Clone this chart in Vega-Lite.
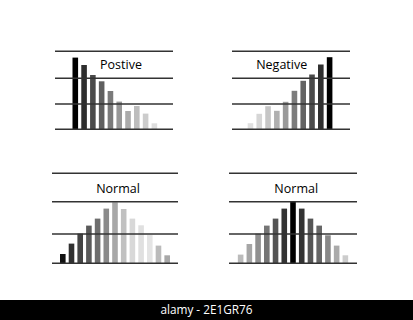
{
  "$schema": "https://vega.github.io/schema/vega-lite/v6.json",
  "padding": 0,
  "autosize": {"type": "pad"},
  "background": "white",
  "spacing": 0,
  "config": {"view": {"stroke": null}},
  "resolve": {"scale": {"x": "independent", "y": "independent", "color": "independent"}},
  "datasets": {
    "bars": [
      {"panel": "pos", "i": 0, "v": 71.7}, {"panel": "pos", "i": 1, "v": 64.3}, {"panel": "pos", "i": 2, "v": 54.3}, {"panel": "pos", "i": 3, "v": 48}, {"panel": "pos", "i": 4, "v": 38.3},
      {"panel": "pos", "i": 5, "v": 27.7}, {"panel": "pos", "i": 6, "v": 18.3}, {"panel": "pos", "i": 7, "v": 23.3}, {"panel": "pos", "i": 8, "v": 15.7}, {"panel": "pos", "i": 9, "v": 6},
      {"panel": "neg", "i": 0, "v": 6.1}, {"panel": "neg", "i": 1, "v": 15.5}, {"panel": "neg", "i": 2, "v": 23.1}, {"panel": "neg", "i": 3, "v": 18.5}, {"panel": "neg", "i": 4, "v": 27.5},
      {"panel": "neg", "i": 5, "v": 38.5}, {"panel": "neg", "i": 6, "v": 48.5}, {"panel": "neg", "i": 7, "v": 54.8}, {"panel": "neg", "i": 8, "v": 64.8}, {"panel": "neg", "i": 9, "v": 72.1},
      {"panel": "norm1", "i": 0, "v": 9.3}, {"panel": "norm1", "i": 1, "v": 19.7}, {"panel": "norm1", "i": 2, "v": 29.7}, {"panel": "norm1", "i": 3, "v": 37.7}, {"panel": "norm1", "i": 4, "v": 44.7},
      {"panel": "norm1", "i": 5, "v": 54.7}, {"panel": "norm1", "i": 6, "v": 61}, {"panel": "norm1", "i": 7, "v": 54.3}, {"panel": "norm1", "i": 8, "v": 44.7}, {"panel": "norm1", "i": 9, "v": 38},
      {"panel": "norm1", "i": 10, "v": 28.3}, {"panel": "norm1", "i": 11, "v": 17.7}, {"panel": "norm1", "i": 12, "v": 8},
      {"panel": "norm2", "i": 0, "v": 8.7}, {"panel": "norm2", "i": 1, "v": 19.3}, {"panel": "norm2", "i": 2, "v": 29.7}, {"panel": "norm2", "i": 3, "v": 37.7}, {"panel": "norm2", "i": 4, "v": 44.7},
      {"panel": "norm2", "i": 5, "v": 54.7}, {"panel": "norm2", "i": 6, "v": 62}, {"panel": "norm2", "i": 7, "v": 54.7}, {"panel": "norm2", "i": 8, "v": 44.7}, {"panel": "norm2", "i": 9, "v": 37.7},
      {"panel": "norm2", "i": 10, "v": 28}, {"panel": "norm2", "i": 11, "v": 17.7}, {"panel": "norm2", "i": 12, "v": 8}
    ],
    "levelsTop": [{"g": 0}, {"g": 25.3}, {"g": 51}, {"g": 78}],
    "levelsBottom": [{"g": 0}, {"g": 29.3}, {"g": 61.6}, {"g": 90}]
  },
  "vconcat": [
    {"width": 1, "height": 49, "data": {"values": []}, "mark": "rect", "encoding": {}},
    {
      "spacing": 0,
      "resolve": {"scale": {"x": "independent", "y": "independent", "color": "independent"}},
      "hconcat": [
        {"width": 55, "height": 82, "data": {"values": []}, "mark": "rect", "encoding": {}},
        {
          "width": 118, "height": 82,
          "layer": [
            {
              "data": {"name": "bars"},
              "transform": [{"filter": "datum.panel == 'pos'"}],
              "mark": {"type": "bar", "width": 5.6, "orient": "vertical"},
              "encoding": {
                "x": {"field": "i", "type": "quantitative", "scale": {"domain": [-1.74, 10.55], "nice": false, "zero": false}, "axis": null},
                "y": {"field": "v", "type": "quantitative", "stack": null, "scale": {"domain": [-1.7, 80.3], "nice": false, "zero": false}, "axis": null},
                "color": {"field": "i", "type": "ordinal", "legend": null,
                          "scale": {"range": ["#000000", "#2e2e2e", "#4a4a4a", "#5f5f5f", "#7a7a7a", "#979797", "#ababab", "#bdbdbd", "#cccccc", "#dedede"]}}
              }
            },
            {
              "data": {"name": "levelsTop"},
              "mark": {"type": "rule", "color": "#333333", "strokeWidth": 1.5, "clip": true},
              "encoding": {"y": {"field": "g", "type": "quantitative"}}
            },
            {
              "data": {"values": [{"t": "Postive"}]},
              "mark": {"type": "text", "font": "Open Sans", "fontSize": 12.5, "baseline": "alphabetic", "align": "center", "color": "#000000"},
              "encoding": {"x": {"datum": 5.2}, "y": {"datum": 60.3}, "text": {"field": "t"}}
            }
          ]
        },
        {"width": 59, "height": 82, "data": {"values": []}, "mark": "rect", "encoding": {}},
        {
          "width": 118, "height": 82,
          "layer": [
            {
              "data": {"name": "bars"},
              "transform": [{"filter": "datum.panel == 'neg'"}],
              "mark": {"type": "bar", "width": 5.6, "orient": "vertical"},
              "encoding": {
                "x": {"field": "i", "type": "quantitative", "scale": {"domain": [-1.53, 10.75], "nice": false, "zero": false}, "axis": null},
                "y": {"field": "v", "type": "quantitative", "stack": null, "scale": {"domain": [-1.7, 80.3], "nice": false, "zero": false}, "axis": null},
                "color": {"field": "i", "type": "ordinal", "legend": null,
                          "scale": {"range": ["#e0e0e0", "#d6d6d6", "#c6c6c6", "#b0b0b0", "#9a9a9a", "#7c7c7c", "#646464", "#4a4a4a", "#303030", "#000000"]}}
              }
            },
            {
              "data": {"name": "levelsTop"},
              "mark": {"type": "rule", "color": "#333333", "strokeWidth": 1.5, "clip": true},
              "encoding": {"y": {"field": "g", "type": "quantitative"}}
            },
            {
              "data": {"values": [{"t": "Negative"}]},
              "mark": {"type": "text", "font": "Open Sans", "fontSize": 12.5, "baseline": "alphabetic", "align": "center", "color": "#000000"},
              "encoding": {"x": {"datum": 3.55}, "y": {"datum": 60}, "text": {"field": "t"}}
            }
          ]
        }
      ]
    },
    {"width": 1, "height": 40, "data": {"values": []}, "mark": "rect", "encoding": {}},
    {
      "spacing": 0,
      "resolve": {"scale": {"x": "independent", "y": "independent", "color": "independent"}},
      "hconcat": [
        {"width": 52, "height": 94, "data": {"values": []}, "mark": "rect", "encoding": {}},
        {
          "width": 126, "height": 94,
          "layer": [
            {
              "data": {"name": "bars"},
              "transform": [{"filter": "datum.panel == 'norm1'"}],
              "mark": {"type": "bar", "width": 5.6, "orient": "vertical"},
              "encoding": {
                "x": {"field": "i", "type": "quantitative", "scale": {"domain": [-0.667, 12.67], "nice": false, "zero": false}, "axis": null},
                "y": {"field": "v", "type": "quantitative", "stack": null, "scale": {"domain": [-1.7, 92.3], "nice": false, "zero": false}, "axis": null},
                "color": {"field": "i", "type": "ordinal", "legend": null,
                          "scale": {"range": ["#111111", "#303030", "#444444", "#5a5a5a", "#6e6e6e", "#8a8a8a", "#a8a8a8", "#c0c0c0", "#d8d8d8", "#e0e0e0", "#e4e4e4", "#bbbbbb", "#a8a8a8"]}}
              }
            },
            {
              "data": {"name": "levelsBottom"},
              "mark": {"type": "rule", "color": "#333333", "strokeWidth": 1.5, "clip": true},
              "encoding": {"y": {"field": "g", "type": "quantitative"}}
            },
            {
              "data": {"values": [{"t": "Normal"}]},
              "mark": {"type": "text", "font": "Open Sans", "fontSize": 12.5, "baseline": "alphabetic", "align": "center", "color": "#000000"},
              "encoding": {"x": {"datum": 6.35}, "y": {"datum": 70.6}, "text": {"field": "t"}}
            }
          ]
        },
        {"width": 51, "height": 94, "data": {"values": []}, "mark": "rect", "encoding": {}},
        {
          "width": 128, "height": 94,
          "layer": [
            {
              "data": {"name": "bars"},
              "transform": [{"filter": "datum.panel == 'norm2'"}],
              "mark": {"type": "bar", "width": 5.6, "orient": "vertical"},
              "encoding": {
                "x": {"field": "i", "type": "quantitative", "scale": {"domain": [-0.76, 12.76], "nice": false, "zero": false}, "axis": null},
                "y": {"field": "v", "type": "quantitative", "stack": null, "scale": {"domain": [-1.7, 92.3], "nice": false, "zero": false}, "axis": null},
                "color": {"field": "i", "type": "ordinal", "legend": null,
                          "scale": {"range": ["#bbbbbb", "#a6a6a6", "#909090", "#767676", "#555555", "#333333", "#000000", "#333333", "#555555", "#666666", "#888888", "#aaaaaa", "#cccccc"]}}
              }
            },
            {
              "data": {"name": "levelsBottom"},
              "mark": {"type": "rule", "color": "#333333", "strokeWidth": 1.5, "clip": true},
              "encoding": {"y": {"field": "g", "type": "quantitative"}}
            },
            {
              "data": {"values": [{"t": "Normal"}]},
              "mark": {"type": "text", "font": "Open Sans", "fontSize": 12.5, "baseline": "alphabetic", "align": "center", "color": "#000000"},
              "encoding": {"x": {"datum": 6.37}, "y": {"datum": 70.6}, "text": {"field": "t"}}
            }
          ]
        }
      ]
    },
    {"width": 1, "height": 35, "data": {"values": []}, "mark": "rect", "encoding": {}},
    {
      "width": 413, "height": 20,
      "view": {"fill": "#000000", "stroke": null},
      "data": {"values": [{"t": "alamy - 2E1GR76"}]},
      "mark": {"type": "text", "font": "Open Sans", "fontSize": 11.8, "color": "#ffffff", "baseline": "middle", "align": "center"},
      "encoding": {"text": {"field": "t"}}
    }
  ]
}
